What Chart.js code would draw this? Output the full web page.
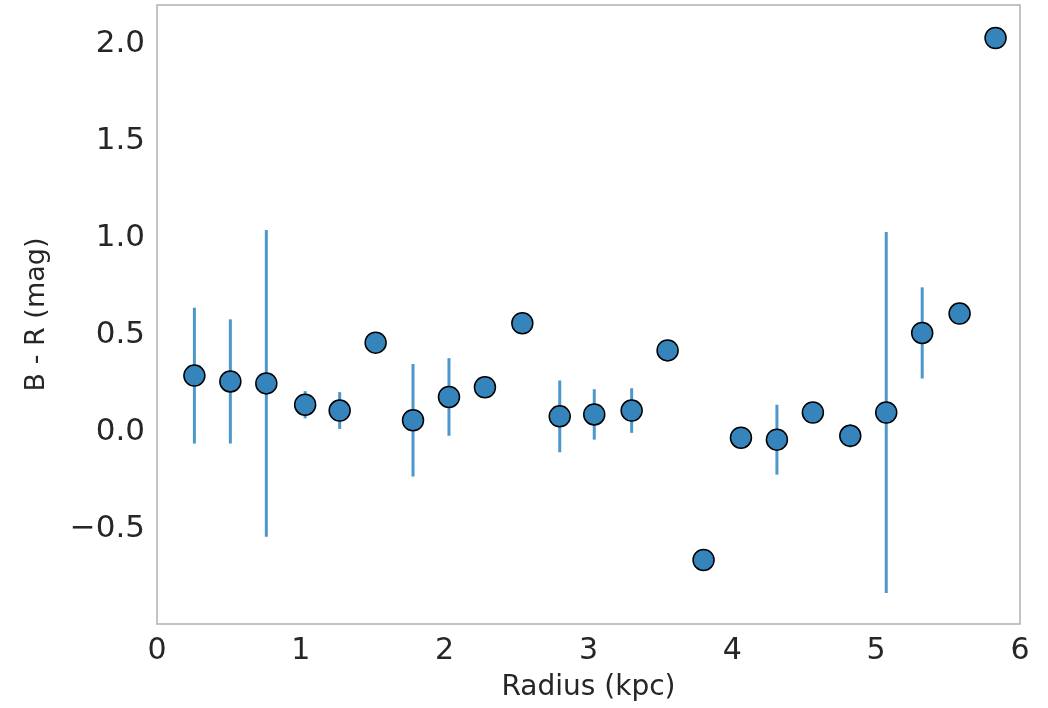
<!DOCTYPE html>
<html>
<head>
<meta charset="utf-8">
<script src="https://cdn.jsdelivr.net/npm/chart.js@4/dist/chart.umd.min.js"></script>
<style>
  html, body { margin: 0; padding: 0; background: #fff; }
  #wrap { width: 1048px; height: 708px; }
</style>
</head>
<body>
<div id="wrap"><canvas id="myChart"></canvas></div>
<script>
const radius = [0.26, 0.51, 0.76, 1.03, 1.27, 1.52, 1.78, 2.03, 2.28, 2.54, 2.80, 3.04,
  3.30, 3.55, 3.80, 4.06, 4.31, 4.56, 4.82, 5.07, 5.32, 5.58, 5.83];
const color = [0.29, 0.26, 0.25, 0.14, 0.11, 0.46, 0.06, 0.18, 0.23, 0.56, 0.08, 0.09,
  0.11, 0.42, -0.66, -0.03, -0.04, 0.10, -0.02, 0.10, 0.51, 0.61, 2.03];
const colorErr = [0.35, 0.32, 0.79, 0.07, 0.095, 0, 0.29, 0.20, 0, 0, 0.185, 0.13,
  0.115, 0, 0, 0, 0.18, 0, 0.06, 0.93, 0.235, 0, 0];
const xTicks = [0, 1, 2, 3, 4, 5, 6];
const yTicks = [-0.5, 0.0, 0.5, 1.0, 1.5, 2.0];

const markerBlue = "#3585bc";
const errBlue = "#4c98cc";
const textColor = "#262626";

// error bars, drawn under the markers
const errorBars = {
  id: "errorBars",
  beforeDatasetsDraw(chart) {
    const { ctx, scales: { x, y } } = chart;
    ctx.save();
    ctx.strokeStyle = errBlue;
    ctx.lineWidth = 3;
    radius.forEach((r, i) => {
      if (!colorErr[i]) return;
      const px = x.getPixelForValue(r);
      ctx.beginPath();
      ctx.moveTo(px, y.getPixelForValue(color[i] + colorErr[i]));
      ctx.lineTo(px, y.getPixelForValue(color[i] - colorErr[i]));
      ctx.stroke();
    });
    ctx.restore();
  },
};

// grey frame round the plot
const frame = {
  id: "frame",
  afterDraw(chart) {
    const { ctx, chartArea: a } = chart;
    ctx.save();
    ctx.strokeStyle = "#b0b0b0";
    ctx.lineWidth = 1.5;
    ctx.strokeRect(a.left, a.top, a.right - a.left, a.bottom - a.top);
    ctx.restore();
  },
};

const ctx = document.getElementById("myChart");

new Chart(ctx, {
  type: "scatter",
  data: {
    datasets: [
      {
        label: "B - R",
        data: radius.map((r, i) => ({ x: r, y: color[i] })),
        backgroundColor: markerBlue,
        borderColor: "#000",
        borderWidth: 1.5,
        pointRadius: 10.5,
        pointHoverRadius: 10.5,
      },
    ],
  },
  options: {
    responsive: true,
    maintainAspectRatio: false,
    animation: false,
    layout: { autoPadding: false, padding: { top: 5, right: 28, left: 0, bottom: 0 } },
    plugins: {
      legend: { display: false },
      tooltip: { enabled: false },
    },
    scales: {
      x: {
        type: "linear",
        min: 0,
        max: 6,
        afterBuildTicks: (scale) => {
          scale.ticks = xTicks.map((v) => ({ value: v }));
        },
        afterFit: (scale) => {
          scale.height = 84;
          scale.paddingLeft = 0;
          scale.paddingRight = 0;
        },
        grid: { display: false, drawTicks: false },
        border: { display: false },
        ticks: {
          color: textColor,
          padding: 9,
          font: { family: "DejaVu Sans", size: 30 },
          callback: (v) => String(v),
        },
        title: {
          display: true,
          text: "Radius (kpc)",
          color: textColor,
          padding: { top: 0, bottom: 3 },
          font: { family: "DejaVu Sans", size: 28 },
        },
      },
      y: {
        min: -0.99,
        max: 2.2,
        afterBuildTicks: (scale) => {
          scale.ticks = yTicks.map((v) => ({ value: v }));
        },
        afterFit: (scale) => {
          scale.width = 157;
          scale.paddingTop = 0;
          scale.paddingBottom = 0;
        },
        grid: { display: false, drawTicks: false },
        border: { display: false },
        ticks: {
          color: textColor,
          padding: 12,
          font: { family: "DejaVu Sans", size: 31 },
          callback: (v) => (v < 0 ? "\u2212" + Math.abs(v).toFixed(1) : v.toFixed(1)),
        },
        title: {
          display: true,
          text: "B - R (mag)",
          color: textColor,
          padding: { top: 21, bottom: 0 },
          font: { family: "DejaVu Sans", size: 27 },
        },
      },
    },
  },
  plugins: [errorBars, frame],
});
</script>
</body>
</html>
